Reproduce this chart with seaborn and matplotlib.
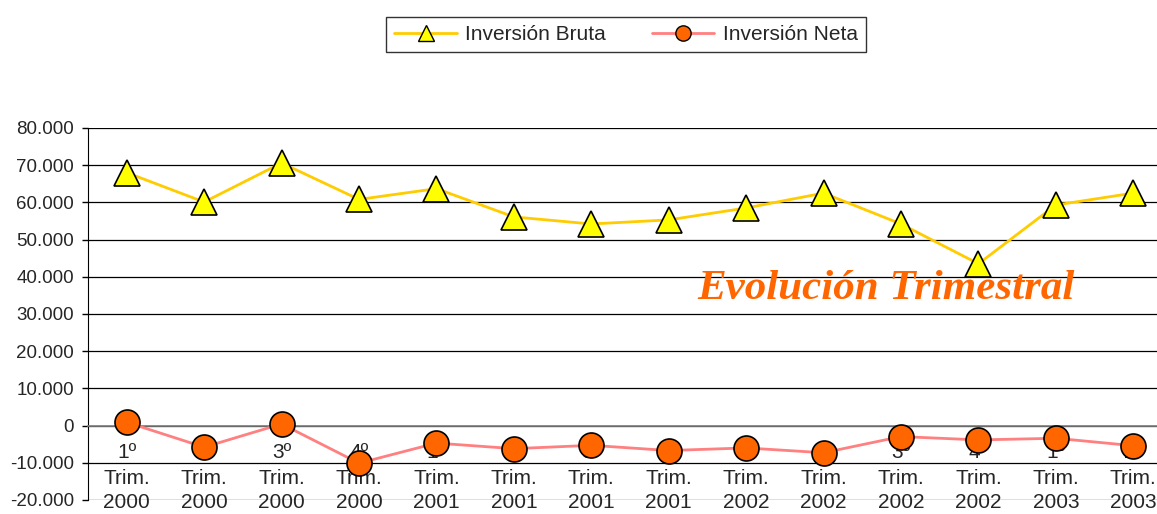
import numpy as np
import pandas as pd
import matplotlib
matplotlib.use("Agg")
import matplotlib.pyplot as plt
import seaborn as sns
from matplotlib.ticker import FuncFormatter, FixedLocator
from matplotlib.lines import Line2D

# Data
trimestres = ["1º", "2º", "3º", "4º", "1º", "2º", "3º", "4º", "1º", "2º", "3º", "4º", "1º", "2º"]
anios = ["2000", "2000", "2000", "2000", "2001", "2001", "2001", "2001",
         "2002", "2002", "2002", "2002", "2003", "2003"]
inversion_bruta = [68000, 60100, 70600, 60800, 63700, 56100, 54200, 55300,
                   58500, 62500, 54200, 43500, 59300, 62500]
inversion_neta = [900, -5800, 450, -10100, -4700, -6200, -5300, -6700,
                  -6000, -7300, -2950, -3850, -3400, -5400]

df = pd.DataFrame({
    "pos": np.arange(len(trimestres)),
    "Inversión Bruta": inversion_bruta,
    "Inversión Neta": inversion_neta,
})

sns.set_style("white")
plt.rcParams["font.family"] = ["Liberation Sans", "DejaVu Sans"]

W, H = 1157, 514
fig = plt.figure(figsize=(W / 100, H / 100), dpi=100)
# plot area runs past the right edge, as in the reference
ax = fig.add_axes([88 / W, (H - 500) / H, 1084 / W, 372 / H])

gold = "#FFCC00"
pink = "#FF8080"
orange = "#FF6600"

sns.lineplot(data=df, x="pos", y="Inversión Bruta", ax=ax, color=gold, lw=2,
             marker="^", markersize=19, markerfacecolor="#FFFF00",
             markeredgecolor="black", markeredgewidth=1.2, zorder=4, clip_on=False)
sns.lineplot(data=df, x="pos", y="Inversión Neta", ax=ax, color=pink, lw=2,
             marker="o", markersize=18, markerfacecolor=orange,
             markeredgecolor="black", markeredgewidth=1.2, zorder=4, clip_on=False)

ax.set_xlim(-0.5, len(trimestres) - 0.5)
ax.set_ylim(-20000, 80000)
ax.set_yticks(np.arange(-20000, 80001, 10000))
ax.yaxis.set_major_formatter(FuncFormatter(lambda v, p: f"{int(v):,}".replace(",", ".")))
ax.grid(axis="y", color="black", lw=0.9)
ax.grid(axis="x", visible=False)

# category labels hang just under the zero line, underneath the markers
ax.set_xticks(df["pos"])
ax.xaxis.set_minor_locator(FixedLocator(np.arange(0.5, len(trimestres) - 0.5, 1)))
ax.tick_params(axis="x", which="major", length=0, labelbottom=False)
ax.tick_params(axis="x", which="minor", length=5, width=1, direction="out", color="black")
ax.tick_params(axis="y", length=4, width=1, color="black", labelsize=13.5, pad=6, left=True)
for pos, t, a in zip(df["pos"], trimestres, anios):
    for txt, dy in [(t, -23.5), ("Trim.", -42), (a, -59.5)]:
        ax.annotate(txt, xy=(pos, 0), xytext=(0, dy), textcoords="offset points",
                    ha="center", va="baseline", fontsize=15,
                    zorder=3, annotation_clip=False)

ax.spines["bottom"].set_position(("data", 0))
ax.spines["bottom"].set_color("#808080")
ax.spines["bottom"].set_linewidth(1.2)
ax.spines["left"].set_color("black")
ax.spines["top"].set_visible(False)
ax.spines["right"].set_visible(False)
ax.set_xlabel("")
ax.set_ylabel("")
if ax.get_legend() is not None:
    ax.get_legend().remove()

fig.text(697 / W, 1 - 289 / H, "Evolución Trimestral", color=orange,
         family="Liberation Serif", weight="bold", style="italic",
         fontsize=31, ha="left", va="center")

handles = [
    Line2D([], [], color=gold, lw=2, marker="^", markersize=11,
           markerfacecolor="#FFFF00", markeredgecolor="black"),
    Line2D([], [], color=pink, lw=2, marker="o", markersize=11,
           markerfacecolor=orange, markeredgecolor="black"),
]
leg = fig.legend(handles, ["Inversión Bruta", "Inversión Neta"], loc="center",
                 bbox_to_anchor=(626 / W, 1 - 34.5 / H), ncol=2, fontsize=15,
                 frameon=True, fancybox=False, edgecolor="black",
                 handlelength=3, handletextpad=0.4, columnspacing=2.2, borderpad=0.4)
leg.get_frame().set_linewidth(1)

fig.savefig("out.png", dpi=100)
